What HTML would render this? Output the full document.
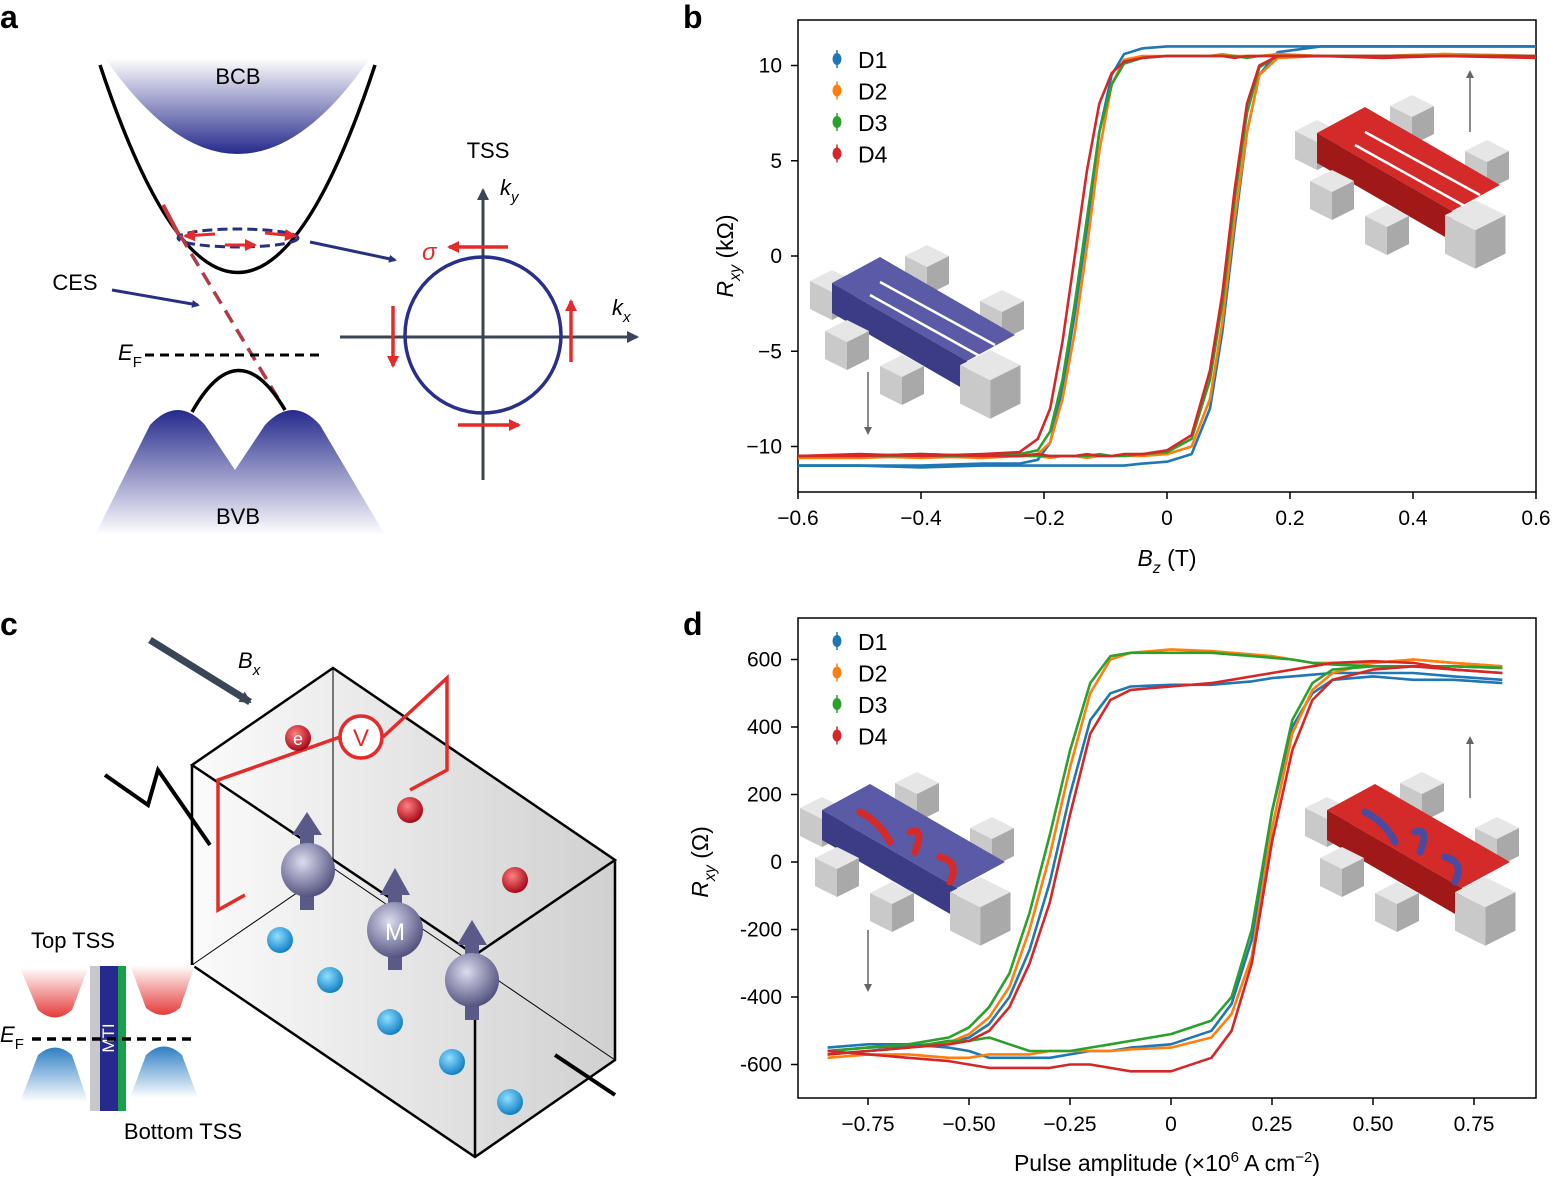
<!DOCTYPE html>
<html><head><meta charset="utf-8">
<style>
html,body{margin:0;padding:0;background:#fff;}
svg{display:block;font-family:"Liberation Sans",sans-serif;}
</style></head>
<body>
<svg id="fig" width="1553" height="1178" viewBox="0 0 1553 1178" xmlns="http://www.w3.org/2000/svg">
<defs>
<linearGradient id="gBCB" x1="0" y1="0" x2="0" y2="1"><stop offset="0" stop-color="#fff"/><stop offset="1" stop-color="#262a8c"/></linearGradient>
<linearGradient id="gBVB" x1="0" y1="0" x2="0" y2="1"><stop offset="0" stop-color="#262a8c"/><stop offset="1" stop-color="#fff"/></linearGradient>
<linearGradient id="gRed" x1="0" y1="0" x2="0" y2="1"><stop offset="0" stop-color="#fff"/><stop offset="1" stop-color="#e63a3a"/></linearGradient>
<linearGradient id="gBlue" x1="0" y1="0" x2="0" y2="1"><stop offset="0" stop-color="#2f7fc4"/><stop offset="1" stop-color="#fff"/></linearGradient>
<linearGradient id="gBox" x1="0" y1="0" x2="1" y2="0"><stop offset="0" stop-color="#fafafa"/><stop offset="1" stop-color="#c8c8c8"/></linearGradient>
<radialGradient id="gSph" cx="0.4" cy="0.35" r="0.7"><stop offset="0" stop-color="#dcdcf0"/><stop offset="1" stop-color="#4a4a78"/></radialGradient>
<radialGradient id="gRs" cx="0.4" cy="0.35" r="0.7"><stop offset="0" stop-color="#ff8080"/><stop offset="1" stop-color="#a00010"/></radialGradient>
<radialGradient id="gBs" cx="0.4" cy="0.35" r="0.7"><stop offset="0" stop-color="#8fe0ff"/><stop offset="1" stop-color="#0a78c0"/></radialGradient>
<marker id="arN" markerWidth="8" markerHeight="8" refX="6" refY="4" orient="auto" markerUnits="userSpaceOnUse"><path d="M0,0 L8,4 L0,8 z" fill="#2a3080"/></marker>
<marker id="arR" markerWidth="12" markerHeight="12" refX="10" refY="6" orient="auto" markerUnits="userSpaceOnUse"><path d="M0,0 L12,6 L0,12 z" fill="#e52a2a"/></marker>
<marker id="arK" markerWidth="12" markerHeight="12" refX="10" refY="6" orient="auto" markerUnits="userSpaceOnUse"><path d="M0,0 L12,6 L0,12 z" fill="#3a4656"/></marker>
<marker id="arG" markerWidth="8" markerHeight="8" refX="6" refY="4" orient="auto" markerUnits="userSpaceOnUse"><path d="M0,0 L8,4 L0,8 z" fill="#666"/></marker>
</defs>

<!-- Panel a -->
<g>
<text x="0" y="28" font-size="32" font-weight="bold">a</text>
<path d="M105,58 Q238,250 370,58 Z" fill="url(#gBCB)"/>
<text x="238" y="84" font-size="22" text-anchor="middle">BCB</text>
<path d="M100,65 Q238,480 375,65" fill="none" stroke="#000" stroke-width="3.5"/>
<path d="M163,205 L180,237" stroke="#c8383c" stroke-width="4"/>
<ellipse cx="238" cy="238" rx="60" ry="9" fill="none" stroke="#2a3080" stroke-width="3" stroke-dasharray="10,5"/>
<line x1="215" y1="234" x2="185" y2="236" stroke="#e52a2a" stroke-width="3" marker-end="url(#arR)"/>
<line x1="225" y1="245" x2="255" y2="245" stroke="#e52a2a" stroke-width="3" marker-end="url(#arR)"/>
<line x1="265" y1="233" x2="295" y2="236" stroke="#e52a2a" stroke-width="3" marker-end="url(#arR)"/>
<line x1="180" y1="235" x2="285" y2="410" stroke="#b23a44" stroke-width="3.5" stroke-dasharray="14,8"/>
<path d="M95,535 L150,425 Q178,395 205,425 L235,470 L265,425 Q293,395 320,425 L385,535 Z" fill="url(#gBVB)"/>
<path d="M192,412 Q238,330 285,410" fill="none" stroke="#000" stroke-width="3.5"/>
<text x="238" y="524" font-size="22" text-anchor="middle">BVB</text>
<line x1="145" y1="355" x2="325" y2="355" stroke="#000" stroke-width="3" stroke-dasharray="9,6"/>
<text x="118" y="360" font-size="22" font-style="italic">E<tspan font-size="15" font-style="normal" dy="7">F</tspan></text>
<text x="75" y="290" font-size="22" text-anchor="middle">CES</text>
<line x1="112" y1="290" x2="198" y2="305" stroke="#2a3080" stroke-width="3" marker-end="url(#arN)"/>
<line x1="310" y1="242" x2="395" y2="260" stroke="#2a3080" stroke-width="3" marker-end="url(#arN)"/>
<text x="488" y="158" font-size="22" text-anchor="middle">TSS</text>
<line x1="483" y1="480" x2="483" y2="190" stroke="#3a4656" stroke-width="3" marker-end="url(#arK)"/>
<line x1="340" y1="337" x2="637" y2="337" stroke="#3a4656" stroke-width="3" marker-end="url(#arK)"/>
<text x="500" y="195" font-size="22" font-style="italic">k<tspan font-size="15" dy="7">y</tspan></text>
<text x="612" y="315" font-size="22" font-style="italic">k<tspan font-size="15" dy="7">x</tspan></text>
<circle cx="483" cy="335" r="78" fill="none" stroke="#2a2f8c" stroke-width="3.5"/>
<line x1="508" y1="247" x2="449" y2="247" stroke="#e52a2a" stroke-width="3.5" marker-end="url(#arR)"/>
<line x1="458" y1="425" x2="519" y2="425" stroke="#e52a2a" stroke-width="3.5" marker-end="url(#arR)"/>
<line x1="393" y1="306" x2="393" y2="366" stroke="#e52a2a" stroke-width="3.5" marker-end="url(#arR)"/>
<line x1="571" y1="362" x2="571" y2="301" stroke="#e52a2a" stroke-width="3.5" marker-end="url(#arR)"/>
<text x="422" y="260" font-size="24" font-style="italic" fill="#e52a2a">σ</text>
</g>

<!-- Panel c -->
<g>
<text x="0" y="635" font-size="32" font-weight="bold">c</text>
<line x1="150" y1="640" x2="250" y2="702" stroke="#3a4656" stroke-width="7" marker-end="url(#arK)"/>
<text x="238" y="668" font-size="22" font-style="italic">B<tspan font-size="15" dy="7">x</tspan></text>
<polygon points="333,668 615,860 615,1060 475,1157 192,965 192,765" fill="url(#gBox)" opacity="0.85"/>
<g fill="none" stroke="#000" stroke-width="2.5">
<polygon points="192,765 333,668 615,860 475,955"/>
<polyline points="192,765 192,965 475,1157 615,1060 615,860"/>
<line x1="475" y1="955" x2="475" y2="1157"/>
<line x1="192" y1="965" x2="333" y2="868" stroke-width="1"/>
<line x1="333" y1="868" x2="615" y2="1060" stroke-width="1"/>
<line x1="333" y1="668" x2="333" y2="868" stroke-width="1"/>
</g>
<polyline points="105,775 148,805 158,770 210,845" fill="none" stroke="#000" stroke-width="4"/>
<line x1="555" y1="1055" x2="615" y2="1095" stroke="#000" stroke-width="4"/>
<polyline points="245,895 218,910 218,780 340,737" fill="none" stroke="#e52a2a" stroke-width="3.5"/>
<polyline points="383,737 447,678 447,770 410,790" fill="none" stroke="#e52a2a" stroke-width="3.5"/>
<circle cx="361" cy="737" r="21" fill="#fff" stroke="#e52a2a" stroke-width="3.5"/>
<text x="361" y="746" font-size="24" text-anchor="middle" fill="#e52a2a">V</text>
<g>
<rect x="300" y="830" width="14" height="80" fill="#5a5a88"/><polygon points="292,835 307,812 322,835" fill="#5a5a88"/>
<circle cx="308" cy="870" r="27" fill="url(#gSph)"/>
<rect x="388" y="890" width="14" height="80" fill="#5a5a88"/><polygon points="380,895 395,868 410,895" fill="#5a5a88"/>
<circle cx="395" cy="930" r="28" fill="url(#gSph)"/>
<text x="395" y="940" font-size="24" text-anchor="middle" fill="#fff">M</text>
<rect x="465" y="940" width="14" height="80" fill="#5a5a88"/><polygon points="457,945 472,920 487,945" fill="#5a5a88"/>
<circle cx="472" cy="980" r="27" fill="url(#gSph)"/>
</g>
<g>
<circle cx="298" cy="738" r="13" fill="url(#gRs)"/><text x="298" y="745" font-size="18" fill="#fff" text-anchor="middle">e</text>
<circle cx="410" cy="810" r="13" fill="url(#gRs)"/>
<circle cx="515" cy="880" r="13" fill="url(#gRs)"/>
<circle cx="280" cy="940" r="13" fill="url(#gBs)"/>
<circle cx="330" cy="980" r="13" fill="url(#gBs)"/>
<circle cx="390" cy="1022" r="13" fill="url(#gBs)"/>
<circle cx="452" cy="1062" r="13" fill="url(#gBs)"/>
<circle cx="510" cy="1102" r="13" fill="url(#gBs)"/>
</g>
<text x="73" y="948" font-size="22" text-anchor="middle">Top TSS</text>
<path d="M20,968 L88,968 L72,1010 Q55,1025 38,1010 Z" fill="url(#gRed)"/>
<path d="M130,965 L195,965 L180,1008 Q163,1022 146,1008 Z" fill="url(#gRed)"/>
<path d="M20,1102 L88,1102 L72,1055 Q55,1040 38,1055 Z" fill="url(#gBlue)"/>
<path d="M130,1098 L198,1098 L182,1055 Q164,1038 146,1055 Z" fill="url(#gBlue)"/>
<rect x="90" y="966" width="10" height="145" fill="#c8c8cc"/>
<rect x="100" y="966" width="18" height="145" fill="#262a8c"/>
<rect x="118" y="966" width="8" height="145" fill="#18a048"/>
<text x="114" y="1038" font-size="17" fill="#fff" transform="rotate(-90 114 1038)" text-anchor="middle">MTI</text>
<line x1="32" y1="1039" x2="192" y2="1039" stroke="#000" stroke-width="3.5" stroke-dasharray="9,6"/>
<text x="0" y="1042" font-size="22" font-style="italic">E<tspan font-size="15" font-style="normal" dy="7">F</tspan></text>
<text x="183" y="1139" font-size="22" text-anchor="middle">Bottom TSS</text>
</g>

<g id="chartB">
<text x="683" y="28" font-size="32" font-weight="bold">b</text>
</g>
<g id="chartD">
<text x="683" y="635" font-size="32" font-weight="bold">d</text>
</g>
</svg>

<script>
// ---------- Panel b data ----------
const bSeries = ["D1", "D2", "D3", "D4"];
const bColors = ["#1f77b4", "#ff7f0e", "#2ca02c", "#d62728"];
const bXTicks = [-0.6, -0.4, -0.2, 0, 0.2, 0.4, 0.6];
const bXTickLabels = ["−0.6", "−0.4", "−0.2", "0", "0.2", "0.4", "0.6"];
const bYTicks = [10, 5, 0, -5, -10];
const bYTickLabels = ["10", "5", "0", "−5", "−10"];
const bX = [-0.6,-0.5,-0.4,-0.3,-0.24,-0.21,-0.19,-0.17,-0.15,-0.13,-0.11,-0.09,-0.07,-0.04,0,0.04,0.07,0.09,0.11,0.13,0.15,0.18,0.25,0.35,0.45,0.6];
const bDownD1 = [-11,-11,-11,-10.9,-10.9,-10.7,-9.8,-7,-3,1.5,6.5,9.5,10.6,10.9,11,11,11,11,11,11,11,11,11,11,11,11];
const bDownD2 = [-10.6,-10.5,-10.6,-10.5,-10.5,-10.4,-9.8,-7.5,-4,0.5,5.5,9,10.3,10.5,10.5,10.5,10.5,10.6,10.5,10.5,10.5,10.6,10.5,10.5,10.6,10.5];
const bDownD3 = [-10.5,-10.5,-10.4,-10.5,-10.4,-10.2,-9.2,-6.5,-2.5,2,6.5,9,10.1,10.4,10.5,10.5,10.5,10.5,10.5,10.4,10.5,10.5,10.5,10.5,10.5,10.5];
const bDownD4 = [-10.5,-10.4,-10.5,-10.4,-10.3,-9.6,-8,-4.5,0,4.5,8,9.6,10.2,10.4,10.5,10.5,10.5,10.5,10.4,10.5,10.5,10.5,10.5,10.4,10.5,10.5];
const bUpD1 = [-11,-11,-11.1,-11,-11,-11,-11,-11,-11,-11,-11,-11,-11,-10.9,-10.8,-10.4,-8,-4,1.5,6.5,9.5,10.7,11,11,11,11];
const bUpD2 = [-10.6,-10.6,-10.5,-10.6,-10.5,-10.5,-10.6,-10.5,-10.5,-10.6,-10.5,-10.5,-10.5,-10.5,-10.4,-10,-7.5,-3.5,2,6.5,9.5,10.4,10.5,10.5,10.6,10.5];
const bUpD3 = [-10.5,-10.5,-10.5,-10.5,-10.5,-10.5,-10.5,-10.5,-10.5,-10.5,-10.4,-10.5,-10.5,-10.4,-10.3,-9.6,-6.5,-2.5,3,7.5,9.9,10.5,10.5,10.5,10.5,10.5];
const bUpD4 = [-10.5,-10.5,-10.4,-10.5,-10.5,-10.4,-10.5,-10.5,-10.5,-10.4,-10.5,-10.5,-10.4,-10.4,-10.2,-9.4,-6,-2,3.5,8,10,10.5,10.5,10.5,10.5,10.4];
const bDown = [bDownD1, bDownD2, bDownD3, bDownD4];
const bUp = [bUpD1, bUpD2, bUpD3, bUpD4];

// ---------- Panel d data ----------
const dSeries = ["D1", "D2", "D3", "D4"];
const dXTicks = [-0.75, -0.5, -0.25, 0, 0.25, 0.5, 0.75];
const dXTickLabels = ["−0.75", "−0.50", "−0.25", "0", "0.25", "0.50", "0.75"];
const dYTicks = [600, 400, 200, 0, -200, -400, -600];
const dYTickLabels = ["600", "400", "200", "0", "-200", "-400", "-600"];
const dX = [-0.85,-0.75,-0.65,-0.55,-0.5,-0.45,-0.4,-0.35,-0.3,-0.25,-0.2,-0.15,-0.1,0,0.1,0.15,0.2,0.25,0.3,0.35,0.4,0.5,0.6,0.7,0.82];
const dDownD1 = [-560,-550,-545,-535,-520,-480,-400,-260,-60,200,420,500,520,525,525,530,535,545,550,555,560,560,560,550,540];
const dDownD2 = [-570,-560,-550,-535,-510,-460,-370,-200,20,280,500,600,620,630,625,620,615,610,600,590,590,590,600,590,580];
const dDownD3 = [-560,-550,-540,-520,-490,-430,-330,-150,80,330,530,610,620,620,620,615,610,605,600,590,585,580,580,580,575];
const dDownD4 = [-570,-560,-550,-540,-530,-500,-430,-300,-120,140,380,480,510,520,530,540,550,560,570,580,590,595,590,570,560];
const dUpD1 = [-550,-540,-540,-550,-560,-580,-580,-580,-580,-570,-560,-560,-550,-540,-500,-420,-230,150,400,500,540,550,540,540,530];
const dUpD2 = [-580,-570,-570,-580,-580,-570,-570,-570,-560,-560,-560,-560,-555,-550,-520,-450,-280,100,380,510,560,590,600,590,580];
const dUpD3 = [-570,-560,-550,-530,-530,-520,-540,-560,-560,-560,-550,-540,-530,-510,-470,-400,-200,150,420,530,570,580,580,580,575];
const dUpD4 = [-560,-570,-580,-590,-600,-610,-610,-610,-610,-600,-600,-610,-620,-620,-580,-500,-300,60,330,480,540,570,580,570,560];
const dDown = [dDownD1, dDownD2, dDownD3, dDownD4];
const dUp = [dUpD1, dUpD2, dUpD3, dUpD4];

const NS = "http://www.w3.org/2000/svg";
function mk(parent, tag, attrs, text){
  const e = document.createElementNS(NS, tag);
  for (const k in attrs) e.setAttribute(k, attrs[k]);
  if (text !== undefined) e.textContent = text;
  parent.appendChild(e);
  return e;
}

function cube(g, x, y, s){
  // isometric-ish block: top-left anchor
  const h = s*0.55;
  const t = mk(g,"polygon",{points:`${x},${y+h*0.5} ${x+s*0.55},${y} ${x+s*1.1},${y+h*0.5} ${x+s*0.55},${y+h}`,fill:"#e6e6e6"});
  
  
  const l = mk(g,"polygon",{points:`${x},${y+h*0.5} ${x+s*0.55},${y+h} ${x+s*0.55},${y+h+s*0.7} ${x},${y+h*0.5+s*0.7}`,fill:"#c9c9c9"});
  
  
  const r = mk(g,"polygon",{points:`${x+s*0.55},${y+h} ${x+s*1.1},${y+h*0.5} ${x+s*1.1},${y+h*0.5+s*0.7} ${x+s*0.55},${y+h+s*0.7}`,fill:"#a9a9a9"});
  
  
}

function device(parent, ox, oy, top, side, arrows, blobs, blobColor){
  const g = mk(parent,"g",{});
  
  
  cube(g, ox+95, oy+0, 40);
  cube(g, ox+170, oy+45, 40);
  cube(g, ox+0, oy+25, 40);
  const tp = mk(g,"polygon",{points:`${ox+22},${oy+38} ${ox+70},${oy+12} ${ox+205},${oy+90} ${ox+157},${oy+116}`,fill:top});
  
  
  const fr = mk(g,"polygon",{points:`${ox+22},${oy+38} ${ox+157},${oy+116} ${ox+157},${oy+146} ${ox+22},${oy+68}`,fill:side});
  
  
  if (arrows){
    mk(g,"line",{x1:ox+60,y1:oy+50,x2:ox+175,y2:oy+114,stroke:"#fff","stroke-width":2.5});
    mk(g,"line",{x1:ox+70,y1:oy+37,x2:ox+185,y2:oy+100,stroke:"#fff","stroke-width":2.5});
  }
  if (blobs){
    mk(g,"path",{d:`M${ox+60},${oy+40} q20,10 30,30 M${ox+110},${oy+60} q15,-5 5,20 M${ox+140},${oy+85} q20,5 10,25`,stroke:blobColor,"stroke-width":7,fill:"none","stroke-linecap":"round"});
  }
  cube(g, ox+15, oy+75, 40);
  cube(g, ox+70, oy+110, 40);
  cube(g, ox+150, oy+105, 55);
}

function buildChart(cfg){
  const root = document.getElementById(cfg.id);
  const sx = v => cfg.x0 + (v - cfg.xmin) * cfg.xs;
  const sy = v => cfg.y0 - (v - cfg.ymin) * cfg.ys;
  const frame = mk(root,"rect",{x:cfg.L,y:cfg.T,width:cfg.R-cfg.L,height:cfg.B-cfg.T,fill:"none",stroke:"#000","stroke-width":1.5});
  
  
  cfg.xTicks.forEach((t,i)=>{
    const x = sx(t);
    const tk = mk(root,"line",{x1:x,y1:cfg.B,x2:x,y2:cfg.B+7,stroke:"#000","stroke-width":1.5});
    
    
    const lb = mk(root,"text",{x:x,y:cfg.B+33,"font-size":21,"text-anchor":"middle"},cfg.xLabels[i]);
    
    
  });
  cfg.yTicks.forEach((t,i)=>{
    const y = sy(t);
    const tk = mk(root,"line",{x1:cfg.L-7,y1:y,x2:cfg.L,y2:y,stroke:"#000","stroke-width":1.5});
    
    
    const lb = mk(root,"text",{x:cfg.L-16,y:y+7,"font-size":21,"text-anchor":"end"},cfg.yLabels[i]);
    
    
  });
  // insets
  cfg.insets();
  // series
  for (let s=0; s<4; s++){
    [cfg.down[s], cfg.up[s]].forEach((arr,k)=>{
      const d = arr.map((v,i)=>(i?"L":"M")+sx(cfg.xs_[i]).toFixed(1)+","+sy(v).toFixed(1)).join(" ");
      const p = mk(root,"path",{d:d,fill:"none",stroke:bColors[s],"stroke-width":2.6,"stroke-linejoin":"round"});
      
      
    });
  }
  // legend
  cfg.names.forEach((n,i)=>{
    const y = cfg.legY + i*31.5;
    const m = mk(root,"ellipse",{cx:cfg.L+39,cy:y,rx:4.5,ry:6,fill:bColors[i]});
    
    
    mk(root,"line",{x1:cfg.L+39,y1:y-9,x2:cfg.L+39,y2:y+9,stroke:bColors[i],"stroke-width":1.5});
    const t = mk(root,"text",{x:cfg.L+60,y:y+9,"font-size":23},n);
    
    
  });
}

buildChart({id:"chartB", L:798,R:1536,T:20,B:492, x0:1167, xmin:0, xs:615, y0:256, ymin:0, ys:19.05,
  xTicks:bXTicks, xLabels:bXTickLabels, yTicks:bYTicks, yLabels:bYTickLabels,
  xs_:bX, down:bDown, up:bUp, names:bSeries, legY:59,
  insets:()=>{
    const root = document.getElementById("chartB");
    device(root, 810, 245, "#5a5aa6", "#3b3b86", true, false);
    device(root, 1295, 95, "#d42a2a", "#a01818", true, false);
    const a1 = mk(root,"line",{x1:868,y1:372,x2:868,y2:433,stroke:"#666","stroke-width":1.5,"marker-end":"url(#arG)"});
    
    
    const a2 = mk(root,"line",{x1:1470,y1:132,x2:1470,y2:72,stroke:"#666","stroke-width":1.5,"marker-end":"url(#arG)"});
    
    
  }});
buildChart({id:"chartD", L:798,R:1536,T:618,B:1098, x0:1171, xmin:0, xs:404, y0:862, ymin:0, ys:0.3375,
  xTicks:dXTicks, xLabels:dXTickLabels, yTicks:dYTicks, yLabels:dYTickLabels,
  xs_:dX, down:dDown, up:dUp, names:dSeries, legY:641,
  insets:()=>{
    const root = document.getElementById("chartD");
    device(root, 800, 772, "#5a5aa6", "#3b3b86", false, true, "#d42a2a");
    device(root, 1305, 772, "#d42a2a", "#a01818", false, true, "#4a4aa0");
    const a1 = mk(root,"line",{x1:868,y1:930,x2:868,y2:990,stroke:"#666","stroke-width":1.5,"marker-end":"url(#arG)"});
    
    
    const a2 = mk(root,"line",{x1:1470,y1:798,x2:1470,y2:738,stroke:"#666","stroke-width":1.5,"marker-end":"url(#arG)"});
    
    
  }});

// axis titles
const svg = document.getElementById("fig");
let t;
t = mk(svg,"text",{x:1167,y:566,"font-size":23,"text-anchor":"middle"});
t.innerHTML = '<tspan font-style="italic">B</tspan><tspan font-style="italic" font-size="16" dy="7">z</tspan><tspan dy="-7"> (T)</tspan>';


t = mk(svg,"text",{x:0,y:0,"font-size":23,"text-anchor":"middle",transform:"translate(733,256) rotate(-90)"});
t.innerHTML = '<tspan font-style="italic">R</tspan><tspan font-style="italic" font-size="16" dy="7">xy</tspan><tspan dy="-7"> (kΩ)</tspan>';


t = mk(svg,"text",{x:1167,y:1171,"font-size":23,"text-anchor":"middle"});
t.innerHTML = 'Pulse amplitude (×10<tspan font-size="15" dy="-9">6</tspan><tspan dy="9"> A cm</tspan><tspan font-size="15" dy="-9">−2</tspan><tspan dy="9">)</tspan>';


t = mk(svg,"text",{x:0,y:0,"font-size":23,"text-anchor":"middle",transform:"translate(708,862) rotate(-90)"});
t.innerHTML = '<tspan font-style="italic">R</tspan><tspan font-style="italic" font-size="16" dy="7">xy</tspan><tspan dy="-7"> (Ω)</tspan>';


</script>
</body></html>
